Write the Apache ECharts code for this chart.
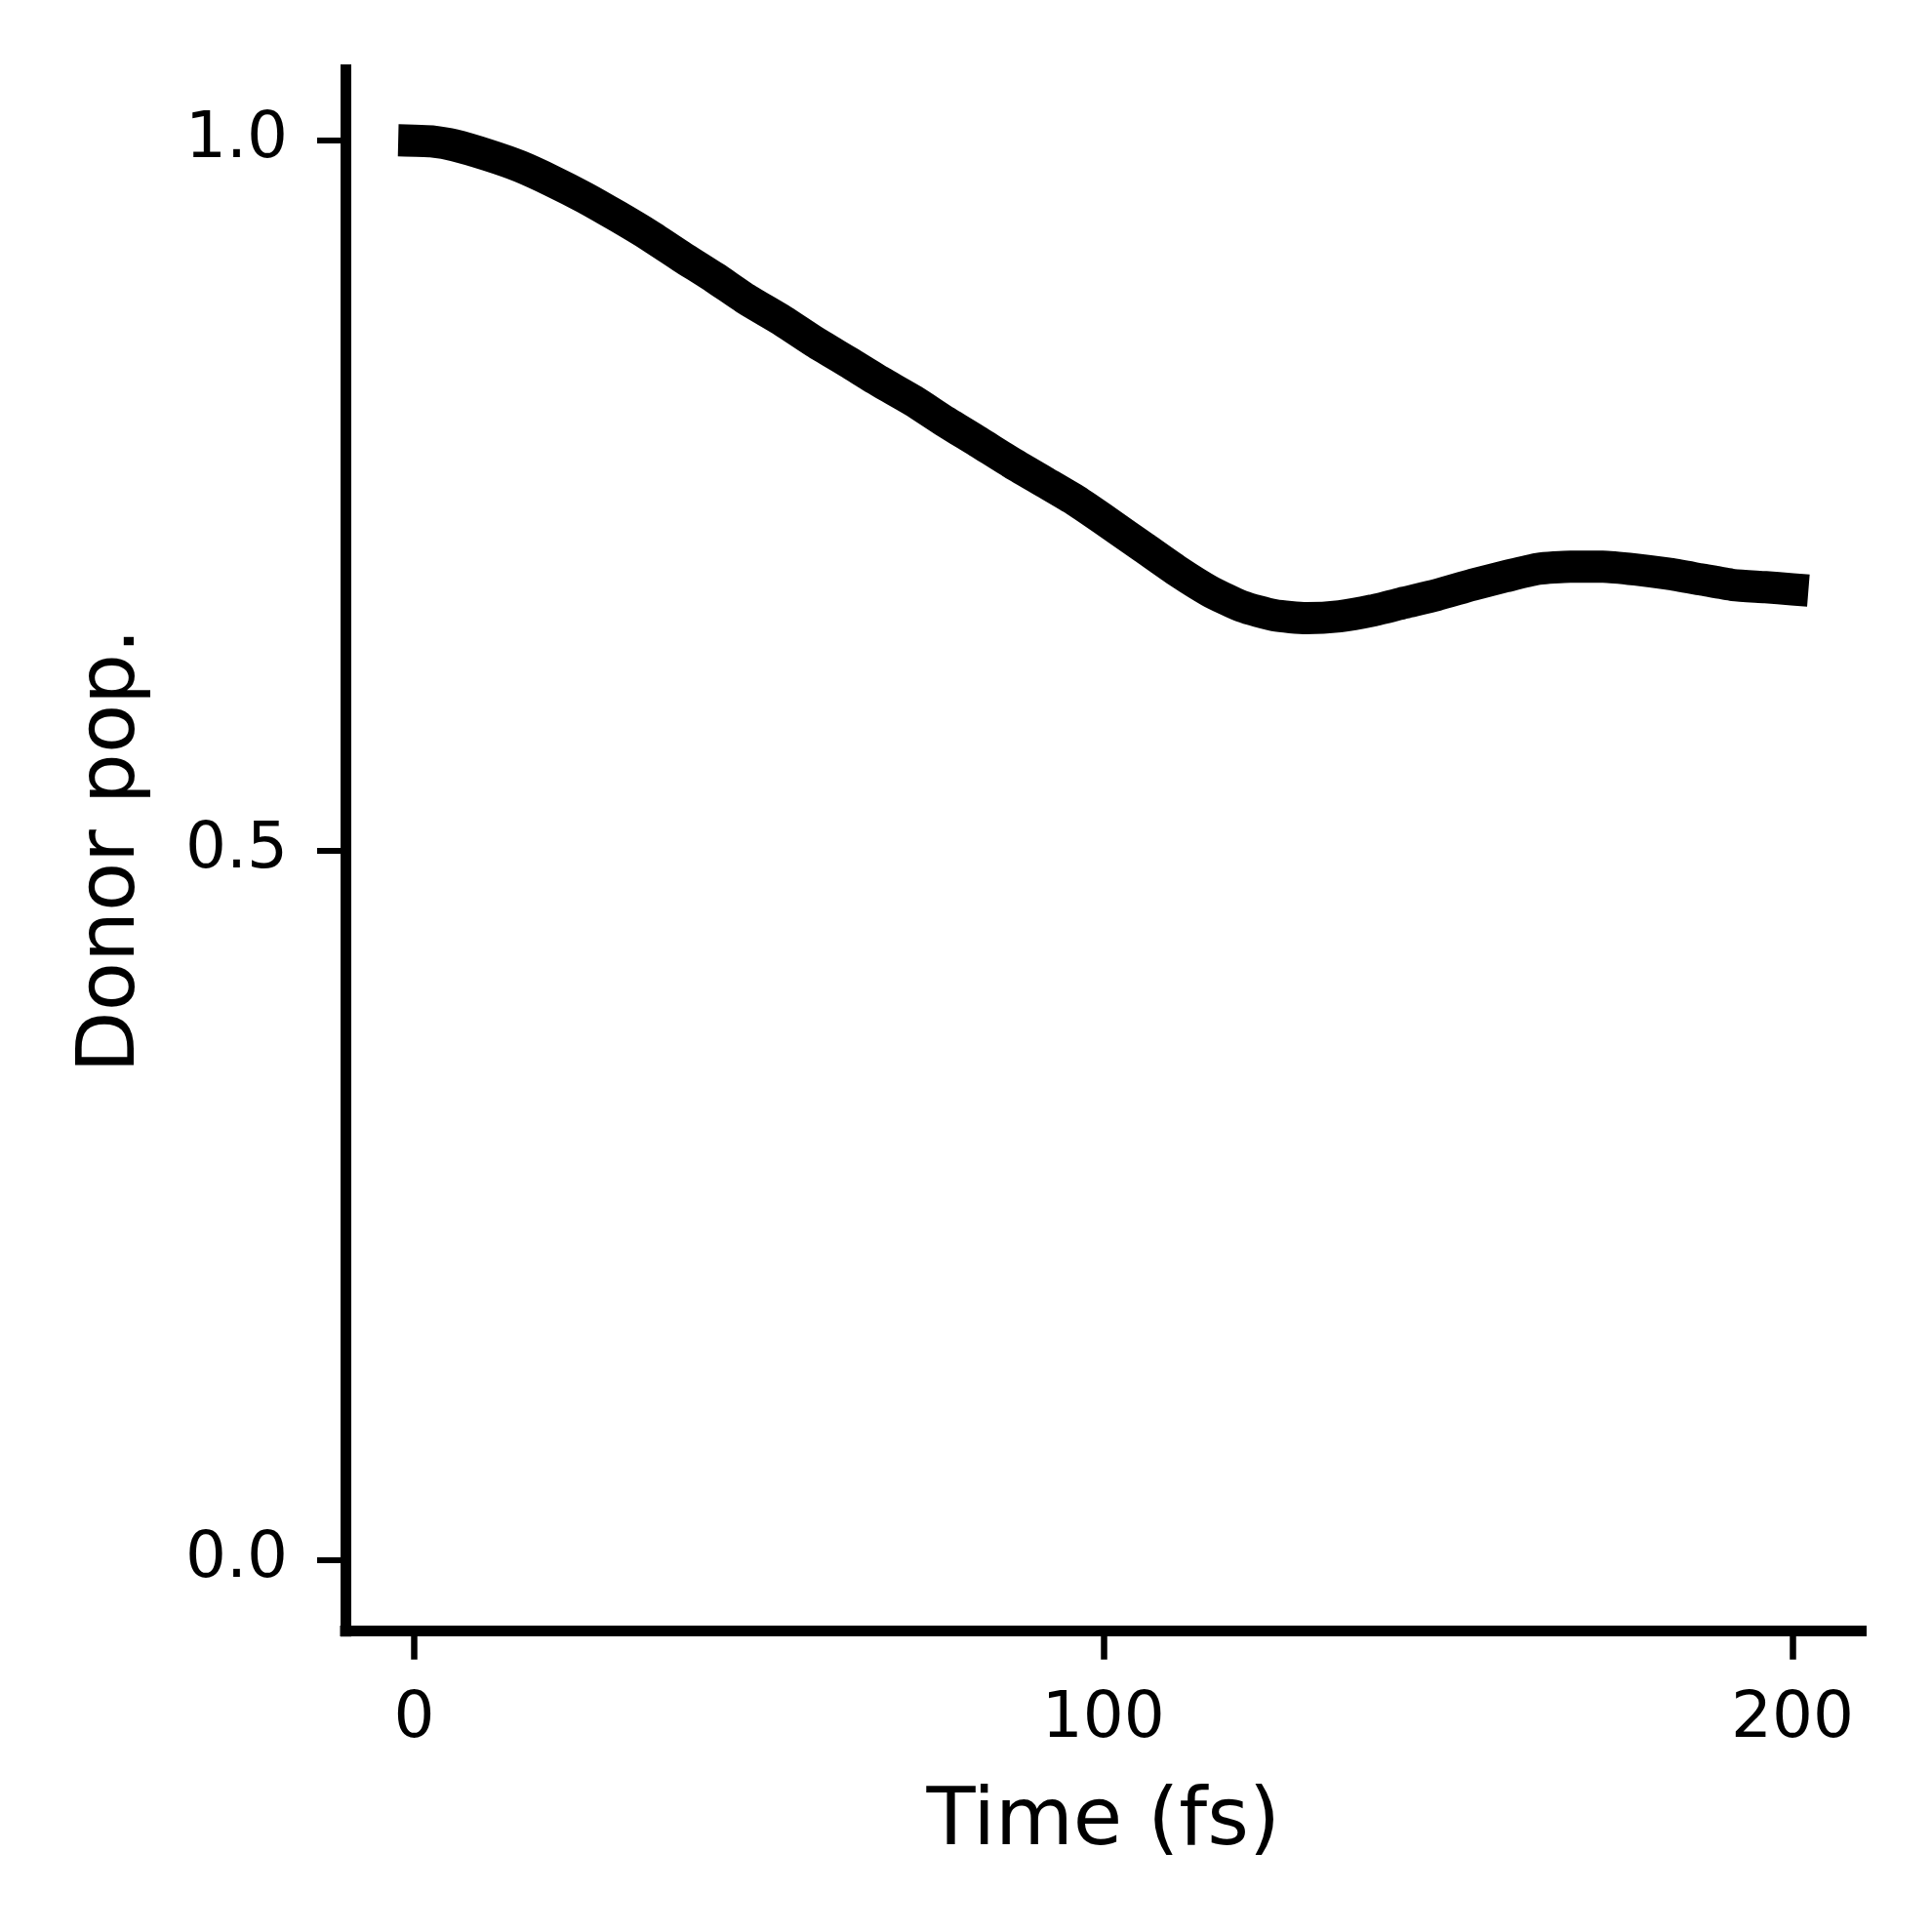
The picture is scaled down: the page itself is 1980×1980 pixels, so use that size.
<!DOCTYPE html>
<html>
<head>
<meta charset="utf-8">
<script src="https://cdn.jsdelivr.net/npm/echarts@6/dist/echarts.min.js"></script>
<style>html,body{margin:0;padding:0;background:#fff;}#c{width:1980px;height:1980px;}</style>
</head>
<body>
<div id="c"></div>
<script>
const timeFs = [0, 2.5, 5.8, 10.6, 15.3, 20.0, 24.7, 29.4, 34.2, 38.9, 43.6, 48.3, 53.5, 58.2, 63.0, 67.7,
  72.4, 77.1, 81.8, 86.6, 91.3, 96.0, 100.7, 105.9, 110.7, 115.4, 120.1, 124.8, 129.5, 134.3, 139.0,
  143.7, 148.4, 153.6, 158.3, 163.1, 167.8, 172.5, 177.2, 181.9, 186.7, 191.4, 196.1, 200.0];
const donorPop = [1.000, 0.9995, 0.9968, 0.990, 0.982, 0.9716, 0.960, 0.947, 0.933, 0.918, 0.9035, 0.888,
  0.873, 0.858, 0.844, 0.830, 0.8169, 0.802, 0.788, 0.7734, 0.760, 0.7465, 0.731, 0.7133, 0.697,
  0.6828, 0.672, 0.6657, 0.6636, 0.665, 0.669, 0.6746, 0.680, 0.6872, 0.693, 0.6984, 0.700, 0.700,
  0.698, 0.695, 0.691, 0.687, 0.6855, 0.684];
const xTicks = [0, 100, 200];
const yTicks = [0, 0.5, 1.0];

const FONT = 'DejaVu Sans';
const chart = echarts.init(document.getElementById('c'), null, {renderer: 'canvas'});
chart.setOption({
  animation: false,
  backgroundColor: '#ffffff',
  grid: {left: 354, right: 72.5, top: 71.5, bottom: 308.3, containLabel: false},
  xAxis: {
    type: 'value', min: -10, max: 210,
    name: 'Time (fs)', nameLocation: 'middle', nameGap: 156,
    nameTextStyle: {fontFamily: FONT, fontSize: 82, color: '#000'},
    axisLine: {show: true, onZero: false, lineStyle: {color: '#000', width: 11, cap: 'square'}},
    axisTick: {show: true, length: 29, customValues: xTicks, lineStyle: {color: '#000', width: 6.5}},
    axisLabel: {show: true, margin: 58, customValues: xTicks, fontFamily: FONT, fontSize: 66, color: '#000',
      formatter: v => String(Math.round(v))},
    splitLine: {show: false}
  },
  yAxis: {
    type: 'value', min: -0.05, max: 1.05,
    name: 'Donor pop.', nameLocation: 'middle', nameGap: 197, nameRotate: 90,
    nameTextStyle: {fontFamily: FONT, fontSize: 82, color: '#000'},
    axisLine: {show: true, onZero: false, lineStyle: {color: '#000', width: 11, cap: 'square'}},
    axisTick: {show: true, length: 29, customValues: yTicks, lineStyle: {color: '#000', width: 6}},
    axisLabel: {show: true, margin: 59, customValues: yTicks, fontFamily: FONT, fontSize: 66, color: '#000',
      padding: [10, 0, 0, 0],
      formatter: v => v.toFixed(1)},
    splitLine: {show: false}
  },
  series: [{
    type: 'line',
    data: timeFs.map((t, i) => [t, donorPop[i]]),
    showSymbol: false,
    smooth: 0.2,
    lineStyle: {color: '#000', width: 33, cap: 'square', join: 'round'},
    clip: false
  }]
});
</script>
</body>
</html>
